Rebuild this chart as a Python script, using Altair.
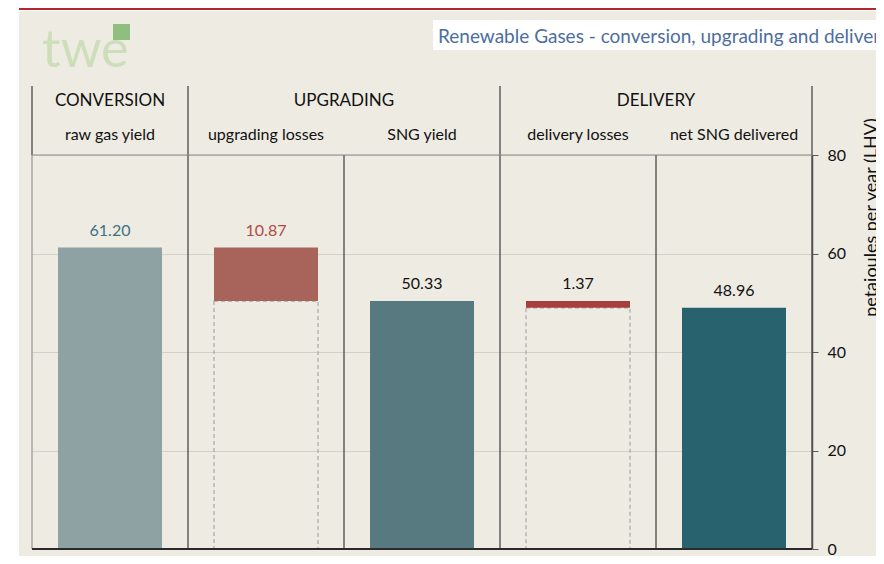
import altair as alt
import pandas as pd

# ---------------- data ----------------
categories = ["raw gas yield", "upgrading losses", "SNG yield", "delivery losses", "net SNG delivered"]
bar_base = [0, 50.33, 0, 48.96, 0]
bar_top = [61.20, 61.20, 50.33, 50.33, 48.96]
value_labels = ["61.20", "10.87", "50.33", "1.37", "48.96"]
bar_colors = ["#8ea2a4", "#a8645b", "#577980", "#a5403e", "#28626f"]
label_colors = ["#3d7282", "#b04a45", "#111111", "#111111", "#111111"]
outline_cats = ["upgrading losses", "delivery losses"]
outline_top = [50.33, 48.96]
groups = ["CONVERSION", "UPGRADING", "DELIVERY"]
group_start = [0, 1, 3]
group_end = [1, 3, 5]
y_ticks = [0, 20, 40, 60, 80]
y_title = "petajoules per year (LHV)"
chart_title = "Renewable Gases - conversion, upgrading and delivery"

FONT = "Lato"
BG = "#eeebe3"

# ---------------- tables ----------------
bars = pd.DataFrame({
    "cat": categories,
    "pos": [categories.index(c) + 0.5 for c in categories],
    "base": bar_base,
    "top": bar_top,
    "label": value_labels,
    "color": bar_colors,
    "lcolor": label_colors,
})
outlines = pd.DataFrame({
    "cat": outline_cats,
    "pos": [categories.index(c) + 0.5 for c in outline_cats],
    "top": outline_top,
})
grp = pd.DataFrame({"group": groups, "start": group_start, "end": group_end})
group_bounds = sorted(set(group_start + group_end))
col_bounds = list(range(len(categories) + 1))
gb = pd.DataFrame({"pos": group_bounds})
cb = pd.DataFrame({"pos": col_bounds})
one = pd.DataFrame({"a": [0]})

xs = alt.Scale(domain=[0, len(categories)], nice=False, zero=False, padding=0)
ys = alt.Scale(domain=[0, 80], nice=False, padding=0)
yaxis = alt.Axis(
    orient="right", values=y_ticks, grid=True, gridColor="#d2d0cb", gridWidth=1,
    domainColor="#5a5a5a", domainWidth=1.5, tickColor="#5a5a5a", tickSize=6, tickWidth=1,
    labelFont=FONT, labelFontSize=16, labelColor="#111111", labelPadding=9,
    titleFont=FONT, titleFontSize=18, titleFontWeight="normal", titleColor="#111111",
    titleAngle=270, titleX=59, titleY=62, titleAlign="center", titleBaseline="middle",
)

def X(field):
    return alt.X(field, type="quantitative", scale=xs, axis=None)

def Y(field):
    return alt.Y(field, type="quantitative", scale=ys, axis=yaxis, title=y_title)

# ---------------- decorative frame ----------------
white_strip = alt.Chart(one).mark_rect(color="white").encode(
    x=alt.value(-24), x2=alt.value(-13), y=alt.value(-147), y2=alt.value(409))
red_bar = alt.Chart(one).mark_rect(color="#b3282e").encode(
    x=alt.value(-13), x2=alt.value(860), y=alt.value(-147), y2=alt.value(-145))
white_line = alt.Chart(one).mark_rect(color="#ffffff").encode(
    x=alt.value(-13), x2=alt.value(860), y=alt.value(-145), y2=alt.value(-144))
title_box = alt.Chart(one).mark_rect(color="#ffffff").encode(
    x=alt.value(401), x2=alt.value(860), y=alt.value(-135), y2=alt.value(-105))
title_text = alt.Chart(one).mark_text(
    align="left", baseline="alphabetic", font=FONT, fontSize=19, color="#4d6e9e"
).encode(x=alt.value(406), y=alt.value(-112), text=alt.value(chart_title))
logo_text = alt.Chart(one).mark_text(
    align="left", baseline="alphabetic", font=FONT, fontSize=52,
    color="#cddfba"
).encode(x=alt.value(10), y=alt.value(-88), text=alt.value("twe"))
logo_cube = alt.Chart(one).mark_rect(color="#8fbe7e").encode(
    x=alt.value(81), x2=alt.value(98), y=alt.value(-131), y2=alt.value(-115))

# ---------------- grid frame ----------------
header_lines = alt.Chart(gb).mark_rule(color="#4a4a4a", strokeWidth=1.3).encode(
    x=X("pos"), y=alt.value(-69), y2=alt.value(0))
col_lines = alt.Chart(cb).mark_rule(strokeWidth=1.3).encode(
    x=X("pos"), y=alt.Y(datum=80, scale=ys, axis=yaxis, title=y_title), y2=alt.Y2(datum=0),
    color=alt.condition(alt.datum.pos == 0, alt.value("#9c9c9c"), alt.value("#4a4a4a")))
header_rule = alt.Chart(one).mark_rule(color="#8c8c8c", strokeWidth=1.2).encode(
    x=alt.X(datum=0, scale=xs, axis=None), x2=alt.X2(datum=len(categories)),
    y=alt.Y(datum=80, scale=ys, axis=yaxis, title=y_title))
bottom_rule = alt.Chart(one).mark_rule(color="#2a2a2a", strokeWidth=2).encode(
    x=alt.X(datum=0, scale=xs, axis=None), x2=alt.X2(datum=len(categories)),
    y=alt.Y(datum=0, scale=ys, axis=yaxis, title=y_title))

group_text = alt.Chart(grp).mark_text(
    font=FONT, fontSize=17, color="#111111", baseline="middle"
).transform_calculate(mid="(datum.start + datum.end) / 2").encode(
    x=X("mid"), y=alt.value(-54), text="group:N")
sub_text = alt.Chart(bars).mark_text(
    font=FONT, fontSize=16, color="#111111", baseline="middle"
).encode(x=X("pos"), y=alt.value(-20), text="cat:N")

# ---------------- data marks ----------------
outline_layer = alt.Chart(outlines).mark_bar(
    width=104, fillOpacity=0, stroke="#a8a8a8", strokeWidth=1.2, strokeDash=[4, 3]
).encode(x=X("pos"), y=Y("top"), y2=alt.Y2(datum=0))
bar_layer = alt.Chart(bars).mark_bar(width=104).encode(
    x=X("pos"), y=Y("top"), y2="base",
    color=alt.Color("color:N", scale=None))
label_layer = alt.Chart(bars).mark_text(
    font=FONT, fontSize=16, baseline="alphabetic", dy=-12
).encode(x=X("pos"), y=Y("top"), text="label:N",
         color=alt.Color("lcolor:N", scale=None))

chart = alt.layer(
    white_strip, red_bar, white_line, title_box, title_text, logo_text, logo_cube,
    col_lines, header_lines, header_rule,
    outline_layer, bar_layer, label_layer,
    bottom_rule, group_text, sub_text,
).properties(
    width=780, height=394,
    autosize=alt.AutoSizeParams(type="none"),
    padding={"left": 24, "top": 147, "right": 64, "bottom": 7},
    background=BG,
).configure_view(strokeWidth=0)

chart.save("out.html", embed_options={"renderer": "svg", "actions": False})
